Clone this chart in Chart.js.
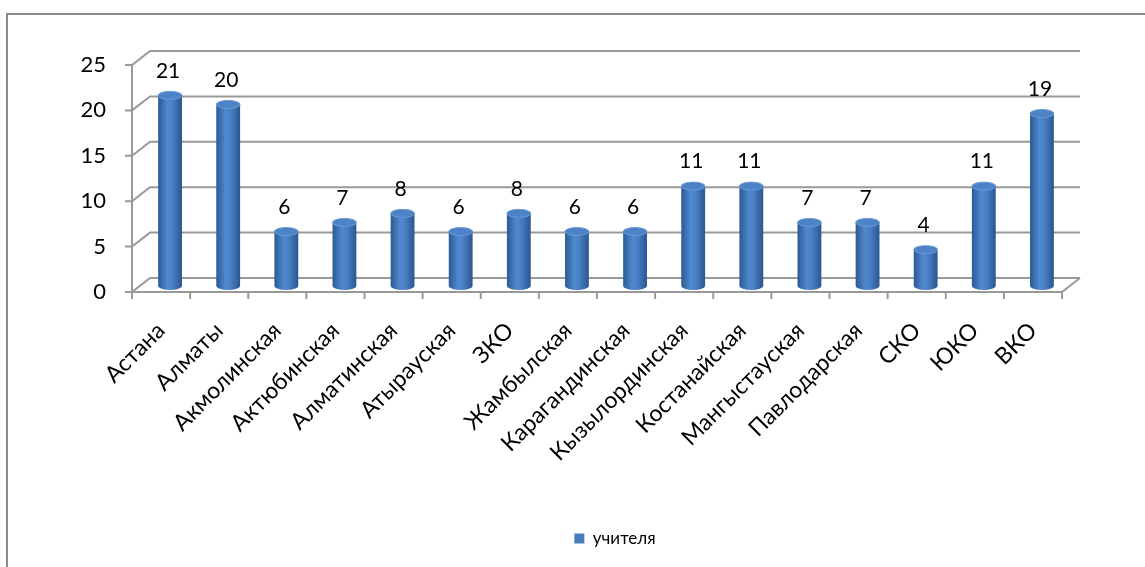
<!DOCTYPE html>
<html>
<head>
<meta charset="utf-8">
<script src="https://cdn.jsdelivr.net/npm/chart.js@4.4.0/dist/chart.umd.min.js"></script>
<style>
  html, body { margin: 0; padding: 0; background: #fff; overflow: hidden; }
  .frame {
    position: absolute; left: 6px; top: 13px;
    width: 1214px; height: 560px;
    border: 2px solid #8c8c8c; border-right: none; border-bottom: none;
  }
</style>
</head>
<body>
<div class="frame"><canvas id="myChart" width="1214" height="560"></canvas></div>
<script>
// data
const regions = ['Астана', 'Алматы', 'Акмолинская', 'Актюбинская', 'Алматинская', 'Атырауская', 'ЗКО',
    'Жамбылская', 'Карагандинская', 'Кызылординская', 'Костанайская', 'Мангыстауская', 'Павлодарская',
    'СКО', 'ЮКО', 'ВКО'];
const teachers = [21, 20, 6, 7, 8, 6, 8, 6, 6, 11, 11, 7, 7, 4, 11, 19];
const yTicks = [0, 5, 10, 15, 20, 25];

const FONT = 'Lato, "Open Sans", sans-serif';
const WALL_DX = 18, WALL_DY = -14;   // back wall offset from front plane
const BAR_DX = 9, BAR_DY = -6;       // cylinders sit halfway back
const lineColor = '#999999';

const walls = {
    id: 'walls',
    beforeDatasetsDraw(chart) {
        const { ctx, chartArea: a, scales: { x, y } } = chart;
        const y0 = y.getPixelForValue(0);
        ctx.save();
        ctx.strokeStyle = lineColor;
        ctx.lineWidth = 2;
        yTicks.forEach(v => {
            const py = y.getPixelForValue(v);
            ctx.beginPath();
            ctx.moveTo(a.left - 7, py);
            ctx.lineTo(a.left, py);
            ctx.lineTo(a.left + WALL_DX, py + WALL_DY);
            ctx.lineTo(a.right + WALL_DX, py + WALL_DY);
            ctx.stroke();
        });
        // front axes
        ctx.beginPath();
        ctx.moveTo(a.left, y.getPixelForValue(yTicks[yTicks.length - 1]));
        ctx.lineTo(a.left, y0);
        ctx.lineTo(a.right, y0);
        ctx.lineTo(a.right + WALL_DX, y0 + WALL_DY);
        ctx.stroke();
        const step = (x.right - x.left) / regions.length;
        for (let i = 0; i <= regions.length; i++) {
            const px = x.left + i * step;
            ctx.beginPath();
            ctx.moveTo(px, y0);
            ctx.lineTo(px, y0 + 7);
            ctx.stroke();
        }
        ctx.restore();
    },
    beforeDatasetDraw(chart, args) {
        const ctx = chart.ctx;
        ctx.save();
        args.meta.data.forEach(bar => {
            const { x, y, base, width } = bar.getProps(['x', 'y', 'base', 'width'], true);
            const cx = x + BAR_DX, top = y + BAR_DY, bottom = base + BAR_DY;
            const rx = width / 2, ry = 4;
            const g = ctx.createLinearGradient(cx - rx, 0, cx + rx, 0);
            g.addColorStop(0, '#2c5a94');
            g.addColorStop(0.4, '#5089ce');
            g.addColorStop(0.6, '#4a80c4');
            g.addColorStop(1, '#2a5690');
            ctx.beginPath();
            ctx.moveTo(cx - rx, top);
            ctx.lineTo(cx - rx, bottom);
            ctx.ellipse(cx, bottom, rx, ry, 0, Math.PI, 0, true);
            ctx.lineTo(cx + rx, top);
            ctx.closePath();
            ctx.fillStyle = g;
            ctx.fill();
            ctx.beginPath();
            ctx.ellipse(cx, top, rx, ry, 0, 0, Math.PI * 2);
            ctx.fillStyle = '#4c83c7';
            ctx.fill();
            ctx.strokeStyle = '#6d9bd6';
            ctx.lineWidth = 1;
            ctx.stroke();
        });
        ctx.restore();
        return false;
    },
    afterDatasetsDraw(chart) {
        const ctx = chart.ctx;
        const meta = chart.getDatasetMeta(0);
        ctx.save();
        ctx.font = '21px ' + FONT;
        ctx.fillStyle = '#000';
        ctx.textAlign = 'center';
        ctx.textBaseline = 'bottom';
        meta.data.forEach((bar, i) => {
            ctx.fillText(teachers[i], bar.x + BAR_DX - 2, bar.y + BAR_DY - 14);
        });
        ctx.restore();
    }
};

new Chart(document.getElementById('myChart'), {
    type: 'bar',
    data: {
        labels: regions,
        datasets: [{
            label: 'учителя',
            data: teachers,
            backgroundColor: '#4a7ebb',
            categoryPercentage: 1,
            barPercentage: 0.41
        }]
    },
    options: {
        responsive: false,
        animation: false,
        layout: { padding: { left: 0, right: 0, top: 50, bottom: 18 } },
        scales: {
            y: {
                min: 0, max: 25,
                afterFit: s => { s.width = 124; },
                grid: { display: false },
                border: { display: false },
                ticks: { stepSize: 5, padding: 18, color: '#000', font: { family: FONT, size: 22 } }
            },
            // empty right side so the legend centres like the original
            spacer: {
                position: 'right',
                afterFit: s => { s.width = 160; },
                grid: { display: false },
                border: { display: false },
                ticks: { display: false }
            },
            x: {
                afterFit: s => { s.height = 228; },
                grid: { display: false },
                border: { display: false },
                ticks: {
                    autoSkip: false, minRotation: 45, maxRotation: 45, padding: 17, labelOffset: 0,
                    color: '#000', font: { family: FONT, size: 23 }
                }
            }
        },
        plugins: {
            legend: {
                position: 'bottom',
                labels: { boxWidth: 10, boxHeight: 10, padding: 10, color: '#000', font: { family: FONT, size: 17 } }
            },
            tooltip: { enabled: false }
        }
    },
    plugins: [walls]
});
</script>
</body>
</html>
